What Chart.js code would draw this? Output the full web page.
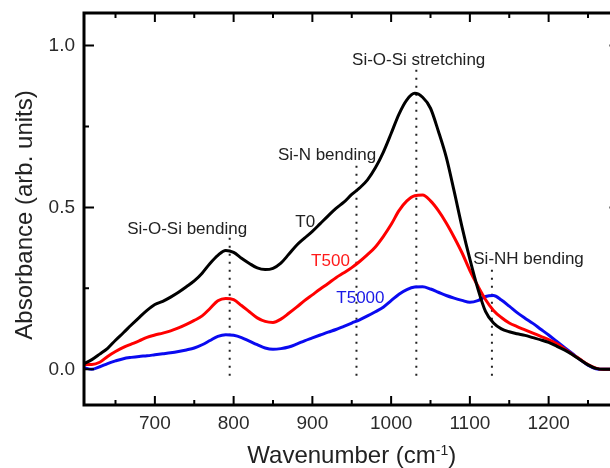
<!DOCTYPE html>
<html>
<head>
<meta charset="utf-8">
<title>FTIR absorbance</title>
<script src="https://cdn.jsdelivr.net/npm/chart.js@4.4.1/dist/chart.umd.min.js"></script>
<style>
  html, body { margin: 0; padding: 0; background: #fff; }
  #wrap { width: 610px; height: 468px; overflow: hidden; }
  canvas { display: block; }
</style>
</head>
<body>
<div id="wrap"><canvas id="ftir" width="630" height="468"></canvas></div>
<script>
// wavenumber grid (cm-1) and absorbance for each sample
const wavenumber = [610, 620, 630, 640, 650, 660, 670, 680, 690, 700, 710, 720, 730, 740, 750, 760, 770, 780, 790, 800,
  810, 820, 830, 840, 850, 860, 870, 880, 890, 900, 910, 920, 930, 940, 950, 960, 970, 980, 990, 1000,
  1010, 1020, 1030, 1040, 1050, 1060, 1070, 1080, 1090, 1100, 1110, 1120, 1130, 1140, 1150, 1160, 1170, 1180, 1190, 1200,
  1210, 1220, 1230, 1240, 1250, 1260, 1270, 1280, 1290];

const absT0 = [0.018, 0.03, 0.047, 0.065, 0.09, 0.113, 0.137, 0.16, 0.182, 0.2, 0.21, 0.223, 0.238, 0.255, 0.273, 0.297, 0.327, 0.352, 0.367, 0.361,
  0.343, 0.327, 0.313, 0.308, 0.312, 0.328, 0.355, 0.383, 0.405, 0.426, 0.45, 0.474, 0.497, 0.516, 0.54, 0.56, 0.585, 0.622, 0.67, 0.728,
  0.788, 0.832, 0.852, 0.84, 0.806, 0.735, 0.655, 0.55, 0.44, 0.34, 0.25, 0.178, 0.143, 0.125, 0.116, 0.11, 0.105, 0.098, 0.091, 0.083,
  0.072, 0.06, 0.046, 0.03, 0.014, 0.003, 0.0, 0.0, 0.0];

const absT500 = [0.015, 0.015, 0.022, 0.04, 0.055, 0.068, 0.078, 0.088, 0.099, 0.106, 0.112, 0.119, 0.128, 0.139, 0.151, 0.165, 0.188, 0.212, 0.219, 0.215,
  0.197, 0.178, 0.159, 0.148, 0.145, 0.155, 0.173, 0.192, 0.212, 0.23, 0.248, 0.265, 0.283, 0.298, 0.314, 0.333, 0.354, 0.378, 0.41, 0.447,
  0.49, 0.52, 0.536, 0.538, 0.52, 0.49, 0.452, 0.408, 0.36, 0.305, 0.258, 0.215, 0.182, 0.16, 0.143, 0.132, 0.122, 0.112, 0.102, 0.092,
  0.08, 0.064, 0.047, 0.031, 0.015, 0.004, 0.0, 0.0, 0.0];

const absT5000 = [0.005, 0.0, 0.008, 0.018, 0.026, 0.033, 0.037, 0.04, 0.042, 0.045, 0.048, 0.051, 0.055, 0.06, 0.066, 0.076, 0.089, 0.102, 0.107, 0.105,
  0.098, 0.087, 0.076, 0.066, 0.062, 0.064, 0.069, 0.078, 0.088, 0.097, 0.106, 0.115, 0.123, 0.133, 0.143, 0.153, 0.165, 0.178, 0.192, 0.212,
  0.232, 0.246, 0.254, 0.255, 0.248, 0.238, 0.228, 0.22, 0.213, 0.207, 0.212, 0.225, 0.228, 0.214, 0.195, 0.175, 0.158, 0.142, 0.124, 0.106,
  0.087, 0.068, 0.049, 0.03, 0.013, 0.002, 0.0, 0.0, 0.0];

// band assignments: dotted markers from a small negative value up to each label
const bandPositions = [795, 956, 1032, 1128];
const bandTops = [0.407, 0.632, 0.925, 0.318];
const bandBottom = -0.02;

const xTicks = [700, 800, 900, 1000, 1100, 1200];
const xMinorTicks = [650, 750, 850, 950, 1050, 1150, 1250];
const yTicks = [0.0, 0.5, 1.0];
const yMinorTicks = [0.25, 0.75];

const annotations = [
  { text: 'Si-O-Si bending', x: 741, y: 0.419, color: '#222' },
  { text: 'T0', x: 891, y: 0.438, color: '#222' },
  { text: 'Si-N bending', x: 918.6, y: 0.645, color: '#222' },
  { text: 'Si-O-Si stretching', x: 1035, y: 0.94, color: '#222' },
  { text: 'T500', x: 923, y: 0.318, color: '#ff1a1a' },
  { text: 'T5000', x: 961, y: 0.206, color: '#1a1ae6' },
  { text: 'Si-NH bending', x: 1174.5, y: 0.324, color: '#222' }
];

const FONT = "'Liberation Sans', Arial, sans-serif";

function series(values) {
  return wavenumber.map((w, i) => ({ x: w, y: values[i] }));
}

const curveStyle = { borderWidth: 3, pointRadius: 0, fill: false, cubicInterpolationMode: 'monotone' };

const datasets = [
  { label: 'T0', data: series(absT0), borderColor: '#000000', ...curveStyle },
  { label: 'T500', data: series(absT500), borderColor: '#ff0000', ...curveStyle },
  { label: 'T5000', data: series(absT5000), borderColor: '#0a0af0', ...curveStyle }
];

bandPositions.forEach((pos, i) => {
  datasets.push({
    label: 'band' + i,
    data: [{ x: pos, y: bandBottom }, { x: pos, y: bandTops[i] }],
    borderColor: '#222',
    borderWidth: 2,
    borderDash: [2, 6],
    pointRadius: 0,
    fill: false
  });
});

// box frame with inward ticks on all four sides, plus text labels
const framePlugin = {
  id: 'frame',
  afterDatasetsDraw(chart) {
    const { ctx, scales: { x, y } } = chart;
    ctx.save();
    ctx.textAlign = 'center';
    ctx.textBaseline = 'alphabetic';
    ctx.font = '17px ' + FONT;
    annotations.forEach(a => {
      ctx.fillStyle = a.color;
      ctx.fillText(a.text, x.getPixelForValue(a.x), y.getPixelForValue(a.y));
    });
    ctx.restore();
  },
  afterDraw(chart) {
    const { ctx, chartArea: a, scales: { x, y } } = chart;
    ctx.save();
    ctx.strokeStyle = '#000';
    ctx.lineWidth = 3;
    ctx.strokeRect(a.left, a.top, a.right - a.left, a.bottom - a.top);

    ctx.lineWidth = 2;
    const xTick = (v, len) => {
      const px = x.getPixelForValue(v);
      ctx.beginPath();
      ctx.moveTo(px, a.bottom); ctx.lineTo(px, a.bottom - len);
      ctx.moveTo(px, a.top); ctx.lineTo(px, a.top + len);
      ctx.stroke();
    };
    const yTick = (v, len) => {
      const py = y.getPixelForValue(v);
      ctx.beginPath();
      ctx.moveTo(a.left, py); ctx.lineTo(a.left + len, py);
      ctx.moveTo(a.right, py); ctx.lineTo(a.right - len, py);
      ctx.stroke();
    };
    xTicks.forEach(v => xTick(v, 9));
    xMinorTicks.forEach(v => xTick(v, 5));
    yTicks.forEach(v => yTick(v, 10));
    yMinorTicks.forEach(v => yTick(v, 5));

    // axis titles
    ctx.fillStyle = '#222';
    ctx.textBaseline = 'alphabetic';
    const main = 'Wavenumber (cm';
    const sup = '-1';
    const close = ')';
    ctx.font = '24px ' + FONT;
    const wMain = ctx.measureText(main).width;
    const wClose = ctx.measureText(close).width;
    ctx.font = '14px ' + FONT;
    const wSup = ctx.measureText(sup).width;
    let tx = (a.left + a.right) / 2 - (wMain + wSup + wClose) / 2;
    const ty = 463;
    ctx.textAlign = 'left';
    ctx.font = '24px ' + FONT;
    ctx.fillText(main, tx, ty);
    tx += wMain;
    ctx.font = '14px ' + FONT;
    ctx.fillText(sup, tx, ty - 8);
    tx += wSup;
    ctx.font = '24px ' + FONT;
    ctx.fillText(close, tx, ty);

    ctx.translate(32, (a.top + a.bottom) / 2 + 6);
    ctx.rotate(-Math.PI / 2);
    ctx.textAlign = 'center';
    ctx.fillText('Absorbance (arb. units)', 0, 0);
    ctx.restore();
  }
};

new Chart(document.getElementById('ftir'), {
  type: 'line',
  data: { datasets },
  options: {
    responsive: false,
    animation: false,
    devicePixelRatio: 1,
    layout: { padding: { top: 13, right: 10.5, left: 0, bottom: 0 } },
    plugins: { legend: { display: false }, tooltip: { enabled: false } },
    scales: {
      x: {
        type: 'linear',
        min: 610,
        max: 1290,
        grid: { display: false, drawTicks: false },
        border: { display: false },
        afterBuildTicks: s => { s.ticks = xTicks.map(v => ({ value: v })); },
        afterFit: s => { s.height = 63; s.paddingLeft = 0; s.paddingRight = 0; },
        ticks: {
          padding: 7,
          color: '#2a2a2a',
          font: { family: FONT, size: 19 },
          callback: v => String(v)
        }
      },
      y: {
        type: 'linear',
        min: -0.11,
        max: 1.1,
        grid: { display: false, drawTicks: false },
        border: { display: false },
        afterBuildTicks: s => { s.ticks = yTicks.map(v => ({ value: v })); },
        afterFit: s => { s.width = 84; s.paddingTop = 0; s.paddingBottom = 0; },
        ticks: {
          padding: 9,
          color: '#2a2a2a',
          font: { family: FONT, size: 19 },
          callback: v => v.toFixed(1)
        }
      }
    }
  },
  plugins: [framePlugin]
});
</script>
</body>
</html>
